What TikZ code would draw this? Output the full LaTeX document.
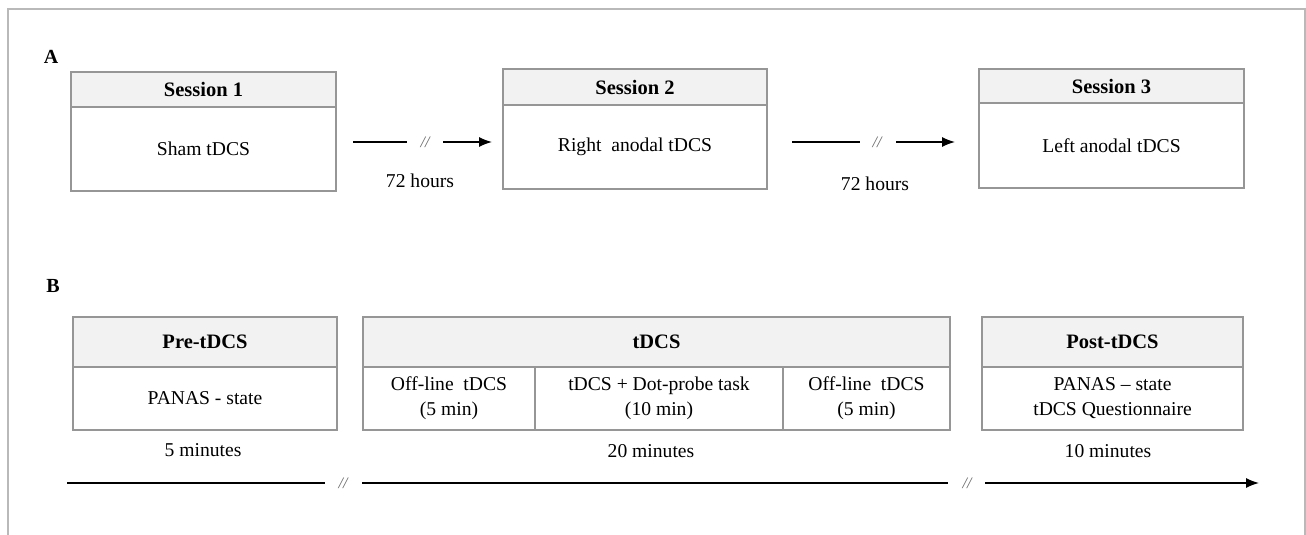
\documentclass[tikz,border=0pt]{standalone}
\usepackage{fontspec}
\setmainfont{Liberation Serif}
\usetikzlibrary{positioning,arrows.meta}
\definecolor{boxline}{RGB}{150,150,150}
\definecolor{headfill}{RGB}{242,242,242}
\definecolor{frameline}{RGB}{185,185,185}
\tikzset{
	head/.style  = {draw=boxline, line width=1.5pt, fill=headfill, rectangle,
		anchor=north west, inner sep=0pt, outer sep=0pt,
		font=\fontsize{20.5}{25}\selectfont\bfseries},
	cell/.style  = {draw=boxline, line width=1.5pt, rectangle, align=center,
		anchor=north west, inner sep=0pt, outer sep=0pt},
	brk/.style   = {text=black!60, font=\fontsize{16}{18}\selectfont\itshape}, % break mark
	tag/.style   = {font=\fontsize{20}{24}\selectfont\bfseries}, % panel letter
	timeline/.style = {line width=1.4pt, black}
}

\begin{document}
\fontsize{19.6}{25}\selectfont
\begin{tikzpicture}[x=1pt, y=-1pt, >={Latex[length=13pt,width=10pt]}]
	\useasboundingbox (0,0) rectangle (1306,535);
	\draw[frameline, line width=1.2pt] (8,535) -- (8,9) -- (1305,9) -- (1305,535);
	
	% A: the three sessions
	\draw
	node at (51,57)[tag] (A) {A}
	node at (71,72)[head, minimum width=265, minimum height=35] (s1h) {Session 1}
	node[cell, below=0pt of s1h, minimum width=265, minimum height=84] (s1b) {Sham tDCS}
	node at (503,69)[head, minimum width=264, minimum height=36] (s2h) {Session 2}
	node[cell, below=0pt of s2h, minimum width=264, minimum height=84] (s2b) {Right\ \ anodal tDCS}
	node at (979,69)[head, minimum width=265, minimum height=34] (s3h) {Session 3}
	node[cell, below=0pt of s3h, minimum width=265, minimum height=85] (s3b) {Left\ anodal\ tDCS}
	;
	
	\coordinate (g1a) at (353,142);
	\coordinate (g1b) at (407,142);
	\coordinate (g1c) at (443,142);
	\coordinate (g1d) at (492,142);
	\coordinate (g2a) at (792,142);
	\coordinate (g2b) at (860,142);
	\coordinate (g2c) at (896,142);
	\coordinate (g2d) at (955,142);
	
	\draw[timeline] (g1a) -- (g1b);
	\draw[timeline, ->] (g1c) -- (g1d);
	\draw[timeline] (g2a) -- (g2b);
	\draw[timeline, ->] (g2c) -- (g2d);
	\draw
	node at (425,142)[brk] (k1) {//}
	node at (877,142)[brk] (k2) {//}
	node at (420,181) (w1) {72 hours}
	node at (875,184) (w2) {72 hours}
	;
	
	% B: one session
	\draw
	node at (53,286)[tag] (B) {B}
	node at (73,317)[head, minimum width=264, minimum height=50] (preh) {Pre-tDCS}
	node[cell, below=0pt of preh, minimum width=264, minimum height=63] (preb) {PANAS - state}
	node at (363,317)[head, minimum width=587, minimum height=50] (stimh) {tDCS}
	node[cell, below=0pt of stimh.south west, anchor=north west, minimum width=172, minimum height=63] (stim1) {Off-line\ \ tDCS\\(5 min)}
	node[cell, right=0pt of stim1, minimum width=248, minimum height=63] (stim2) {tDCS + Dot-probe task\\(10 min)}
	node[cell, right=0pt of stim2, minimum width=167, minimum height=63] (stim3) {Off-line\ \ tDCS\\(5 min)}
	node at (982,317)[head, minimum width=261, minimum height=50] (posth) {Post-tDCS}
	node[cell, below=0pt of posth, minimum width=261, minimum height=63] (postb) {PANAS -- state\\tDCS Questionnaire}
	node at (203,450) (m1) {5 minutes}
	node at (651,451) (m2) {20 minutes}
	node at (1108,451) (m3) {10 minutes}
	;
	
	\coordinate (t1) at (67,483);
	\coordinate (t2) at (325,483);
	\coordinate (t3) at (362,483);
	\coordinate (t4) at (948,483);
	\coordinate (t5) at (985,483);
	\coordinate (t6) at (1259,483);
	\draw[timeline] (t1) -- (t2);
	\draw[timeline] (t3) -- (t4);
	\draw[timeline, ->] (t5) -- (t6);
	\draw
	node at (343,483)[brk] (k3) {//}
	node at (967,483)[brk] (k4) {//}
	;
\end{tikzpicture}
\end{document}
